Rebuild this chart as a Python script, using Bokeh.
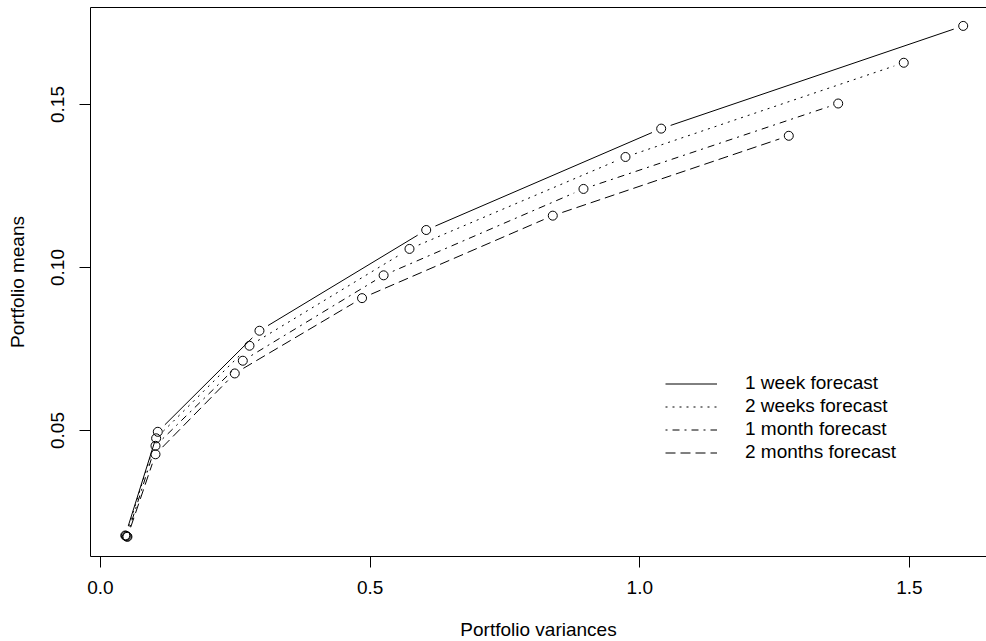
import math
from bokeh.plotting import figure
from bokeh.models import (Range1d, FixedTicker, LinearAxis, Legend, LegendItem,
                          ColumnDataSource, NumeralTickFormatter)
from bokeh.embed import file_html
from bokeh.resources import INLINE

# ---- data ----
series_labels = ["1 week forecast", "2 weeks forecast", "1 month forecast", "2 months forecast"]
variances_1w = [0.046, 0.1063, 0.2948, 0.604, 1.0397, 1.5997]
means_1w = [0.0178, 0.0496, 0.0806, 0.1115, 0.1426, 0.1741]
variances_2w = [0.047, 0.1032, 0.2763, 0.573, 0.9735, 1.4895]
means_2w = [0.0177, 0.0476, 0.0760, 0.1057, 0.1339, 0.1628]
variances_1m = [0.049, 0.1020, 0.2639, 0.525, 0.8956, 1.3679]
means_1m = [0.0175, 0.0453, 0.0714, 0.0976, 0.1241, 0.1503]
variances_2m = [0.050, 0.1020, 0.2490, 0.485, 0.8387, 1.2763]
means_2m = [0.0174, 0.0427, 0.0675, 0.0906, 0.1159, 0.1404]
x_ticks = [0.0, 0.5, 1.0, 1.5]
y_ticks = [0.05, 0.10, 0.15]

series = [(variances_1w, means_1w), (variances_2w, means_2w),
          (variances_1m, means_1m), (variances_2m, means_2m)]
dashes = ["solid", "2 5", "2 5 7 5", "10 5"]

FONT = "Liberation Sans"
FS = "19px"
FW, FH = 896, 549
XPX = 539.3                      # pixels per x unit
XR = (-0.0185, -0.0185 + FW / XPX)
YR = (0.01135, 0.17975)

p = figure(frame_width=FW, frame_height=FH, output_backend="svg", toolbar_location=None,
           x_range=Range1d(*XR), y_range=Range1d(*YR),
           min_border_left=90, min_border_right=0, min_border_top=7, min_border_bottom=85)
p.outline_line_color = None
p.xgrid.visible = False
p.ygrid.visible = False
p.background_fill_color = "white"
p.border_fill_color = "white"

# axes
for ax in (p.xaxis[0], p.yaxis[0]):
    ax.axis_line_color = "black"
    ax.axis_line_width = 1
    ax.major_tick_line_color = "black"
    ax.major_tick_out = 11
    ax.major_tick_in = 0
    ax.minor_tick_out = 0
    ax.minor_tick_in = 0
    ax.major_label_text_font = FONT
    ax.major_label_text_font_size = FS
    ax.major_label_text_color = "black"
    ax.axis_label_text_font = FONT
    ax.axis_label_text_font_size = FS
    ax.axis_label_text_font_style = "normal"
    ax.axis_label_text_color = "black"

p.xaxis[0].ticker = FixedTicker(ticks=x_ticks)
p.xaxis[0].formatter = NumeralTickFormatter(format="0.0")
p.xaxis[0].axis_label = "Portfolio variances"
p.xaxis[0].major_label_standoff = 13
p.xaxis[0].axis_label_standoff = 22

p.yaxis[0].ticker = FixedTicker(ticks=y_ticks)
p.yaxis[0].formatter = NumeralTickFormatter(format="0.00")
p.yaxis[0].axis_label = "Portfolio means"
p.yaxis[0].major_label_orientation = "vertical"
p.yaxis[0].major_label_standoff = 15
p.yaxis[0].axis_label_standoff = 21

top = LinearAxis(ticker=FixedTicker(ticks=[]), major_tick_out=0, major_tick_in=0,
                 minor_tick_out=0, minor_tick_in=0, major_label_text_font_size="0px",
                 axis_line_color="black", axis_line_width=1, major_label_standoff=0)
p.add_layout(top, "above")

# R type="b": segments shortened around each point
sx = FW / (XR[1] - XR[0])
sy = FH / (YR[1] - YR[0])
GAP = 10.0

def gapped(xs, ys):
    x0, y0, x1, y1 = [], [], [], []
    for i in range(len(xs) - 1):
        dx = xs[i + 1] - xs[i]
        dy = ys[i + 1] - ys[i]
        L = math.hypot(dx * sx, dy * sy)
        if L > 2 * GAP:
            f = GAP / L
            x0.append(xs[i] + f * dx)
            y0.append(ys[i] + f * dy)
            x1.append(xs[i + 1] - f * dx)
            y1.append(ys[i + 1] - f * dy)
    return dict(x0=x0, y0=y0, x1=x1, y1=y1)

items = []
for (xs, ys), dash, lab in zip(series, dashes, series_labels):
    seg = p.segment("x0", "y0", "x1", "y1", source=ColumnDataSource(gapped(xs, ys)),
                    line_color="black", line_width=1, line_dash=dash)
    p.scatter(xs, ys, marker="circle", size=9, fill_color=None,
              line_color="black", line_width=1)
    items.append(LegendItem(label=lab, renderers=[seg]))

legend = Legend(items=items, location=(575, 93), orientation="vertical",
                border_line_color=None, background_fill_alpha=0,
                glyph_width=52, glyph_height=21, label_height=21, spacing=1,
                label_standoff=28, padding=0, margin=0,
                label_text_font=FONT, label_text_font_size=FS,
                label_text_color="black")
p.add_layout(legend, "center")

open("out.html", "w").write(file_html(p, INLINE))
